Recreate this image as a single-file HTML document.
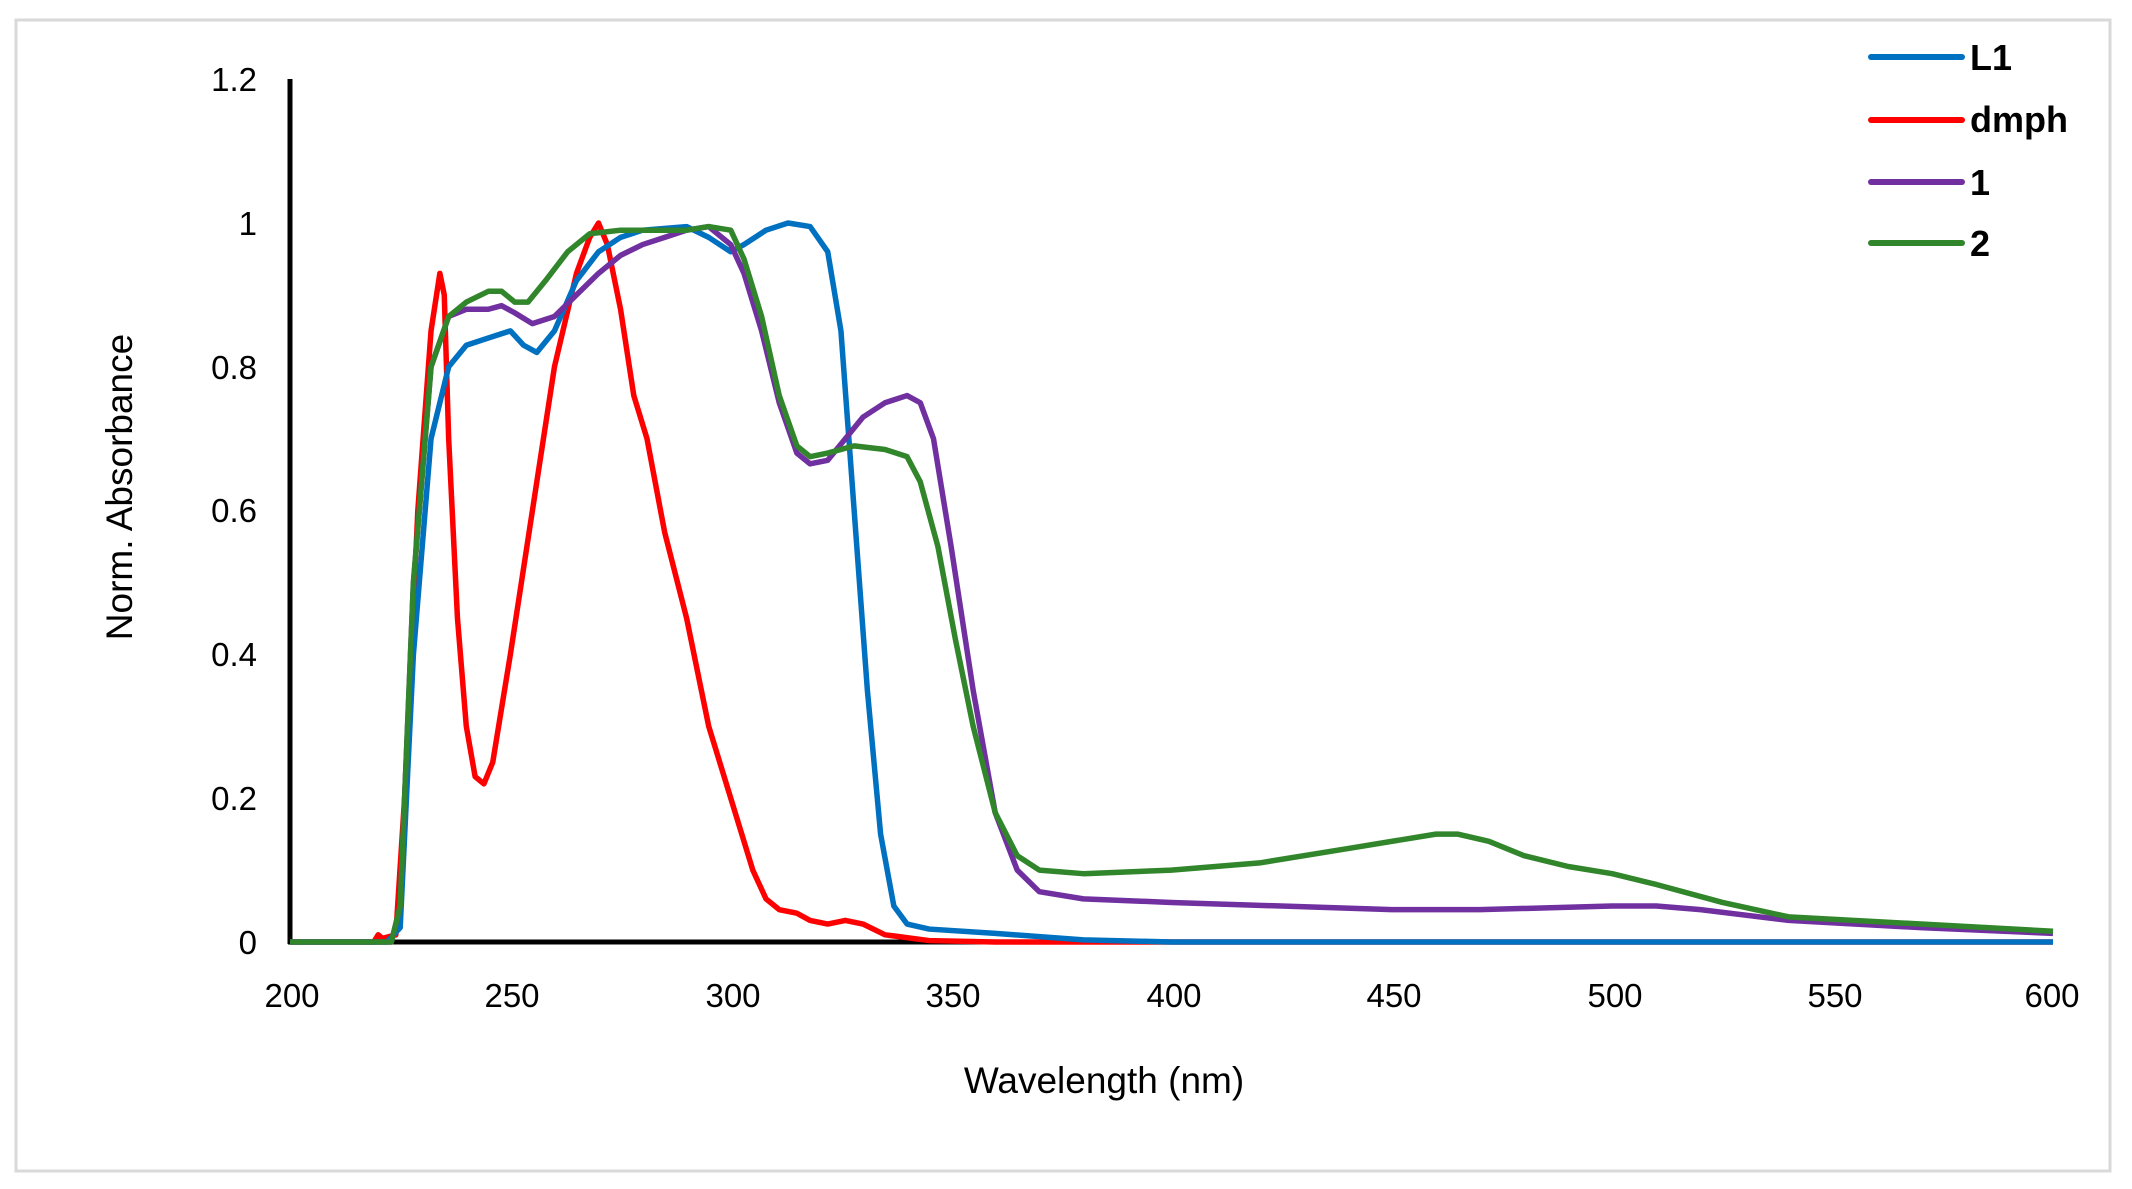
<!DOCTYPE html>
<html><head><meta charset="utf-8"><style>html,body{margin:0;padding:0;background:#fff}svg{display:block}</style></head>
<body>
<svg width="2132" height="1189" viewBox="0 0 2132 1189" xmlns="http://www.w3.org/2000/svg" font-family="Liberation Sans, Arial, sans-serif">
<rect x="16" y="20" width="2094" height="1151" fill="#fff" stroke="#d9d9d9" stroke-width="3"/>
<g font-size="33" fill="#000" text-anchor="end">
<text x="257" y="954">0</text><text x="257" y="810">0.2</text><text x="257" y="666">0.4</text>
<text x="257" y="522">0.6</text><text x="257" y="379">0.8</text><text x="257" y="235">1</text><text x="257" y="91">1.2</text>
</g>
<g font-size="33" fill="#000" text-anchor="middle">
<text x="292" y="1007">200</text><text x="512" y="1007">250</text><text x="733" y="1007">300</text><text x="953" y="1007">350</text>
<text x="1174" y="1007">400</text><text x="1394" y="1007">450</text><text x="1615" y="1007">500</text><text x="1835" y="1007">550</text><text x="2052" y="1007">600</text>
</g>
<text x="1104" y="1093" font-size="37" text-anchor="middle">Wavelength (nm)</text>
<text transform="translate(132,487) rotate(-90)" font-size="37" text-anchor="middle">Norm. Absorbance</text>
<line x1="290" y1="79" x2="290" y2="944" stroke="#000" stroke-width="5"/>
<line x1="288" y1="942" x2="2053" y2="942" stroke="#000" stroke-width="5"/>
<g transform="translate(290,942) scale(4.4075,-719) translate(-200,0)" fill="none" stroke-width="5.5" stroke-linejoin="round">
<polyline vector-effect="non-scaling-stroke" stroke="#ff0000" points="200,0 219,0 220,0.01 221,0.005 224,0.01 226,0.2 229,0.6 232,0.85 234,0.93 235,0.9 236,0.7 238,0.45 240,0.3 242,0.23 244,0.22 246,0.25 250,0.4 255,0.6 260,0.8 265,0.93 268,0.98 270,1.0 272,0.97 275,0.88 278,0.76 281,0.7 285,0.57 290,0.45 295,0.3 300,0.2 305,0.1 308,0.06 311,0.045 315,0.04 318,0.03 322,0.025 326,0.03 330,0.025 335,0.01 345,0.002 360,0 600,0"/>
<polyline vector-effect="non-scaling-stroke" stroke="#0070c0" points="200,0 222,0 225,0.02 228,0.4 232,0.7 236,0.8 240,0.83 245,0.84 250,0.85 253,0.83 256,0.82 260,0.85 265,0.92 270,0.96 275,0.98 280,0.99 290,0.995 295,0.98 300,0.96 303,0.97 308,0.99 313,1.0 318,0.995 322,0.96 325,0.85 328,0.6 331,0.35 334,0.15 337,0.05 340,0.025 345,0.018 360,0.012 380,0.003 400,0 600,0"/>
<polyline vector-effect="non-scaling-stroke" stroke="#7030a0" points="200,0 223,0 225,0.05 228,0.5 232,0.8 236,0.87 240,0.88 245,0.88 248,0.885 251,0.875 255,0.86 260,0.87 265,0.9 270,0.93 275,0.955 280,0.97 285,0.98 290,0.99 295,0.995 300,0.97 303,0.93 307,0.85 311,0.75 315,0.68 318,0.665 322,0.67 326,0.7 330,0.73 335,0.75 340,0.76 343,0.75 346,0.7 350,0.55 355,0.35 360,0.18 365,0.1 370,0.07 380,0.06 400,0.055 450,0.045 470,0.045 500,0.05 510,0.05 520,0.045 540,0.03 570,0.02 600,0.012"/>
<polyline vector-effect="non-scaling-stroke" stroke="#31852b" points="200,0 223,0 225,0.05 228,0.5 232,0.8 236,0.87 240,0.89 245,0.905 248,0.905 251,0.89 254,0.89 258,0.92 263,0.96 268,0.985 275,0.99 290,0.99 295,0.995 300,0.99 303,0.95 307,0.87 311,0.76 315,0.69 318,0.675 322,0.68 328,0.69 335,0.685 340,0.675 343,0.64 347,0.55 351,0.42 355,0.3 360,0.18 365,0.12 370,0.1 380,0.095 400,0.1 420,0.11 440,0.13 460,0.15 465,0.15 472,0.14 480,0.12 490,0.105 500,0.095 510,0.08 525,0.055 540,0.035 570,0.025 600,0.015"/>
</g>
<g stroke-width="6" stroke-linecap="round">
<line x1="1871" y1="57" x2="1962" y2="57" stroke="#0070c0"/>
<line x1="1871" y1="120" x2="1962" y2="120" stroke="#ff0000"/>
<line x1="1871" y1="182" x2="1962" y2="182" stroke="#7030a0"/>
<line x1="1871" y1="243" x2="1962" y2="243" stroke="#31852b"/>
</g>
<g font-size="36" font-weight="bold" fill="#000">
<text x="1970" y="70">L1</text><text x="1970" y="132">dmph</text><text x="1970" y="195">1</text><text x="1970" y="256">2</text>
</g>
</svg>
</body></html>
